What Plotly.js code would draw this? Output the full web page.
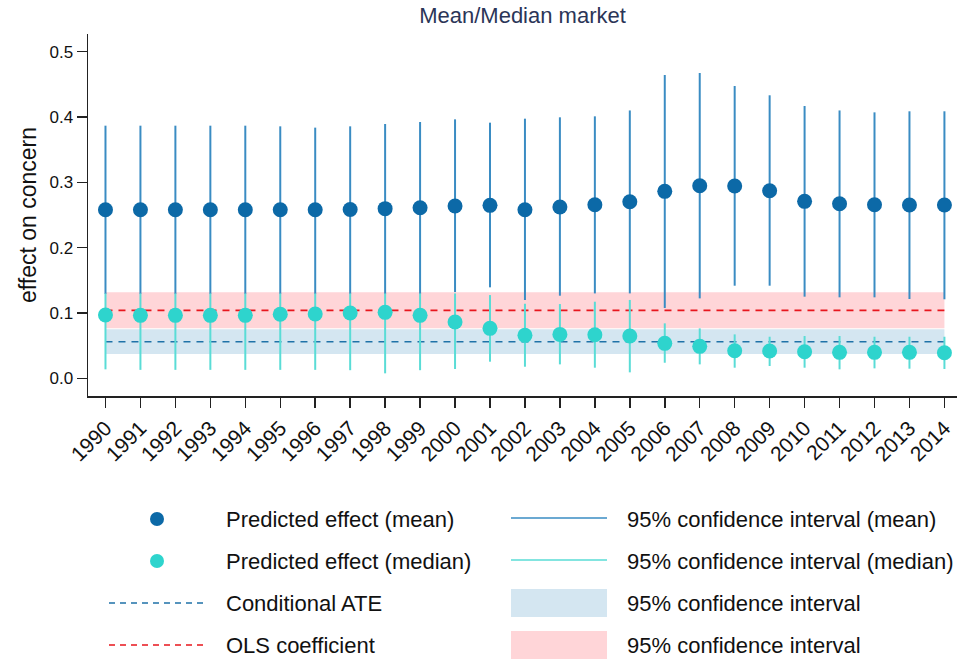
<!DOCTYPE html>
<html>
<head>
<meta charset="utf-8">
<script src="https://cdn.plot.ly/plotly-3.0.1.min.js"></script>
<style>html,body{margin:0;padding:0;background:#fff;}#chart{width:957px;height:662px;}</style>
</head>
<body>
<div id="chart"></div>
<script>
// ---- data ----
var years = [1990,1991,1992,1993,1994,1995,1996,1997,1998,1999,2000,2001,2002,2003,2004,2005,2006,2007,2008,2009,2010,2011,2012,2013,2014];

var meanEffect = [0.258,0.258,0.258,0.258,0.258,0.258,0.258,0.2585,0.2597,0.2612,0.2638,0.2648,0.258,0.2622,0.2657,0.2703,0.2862,0.2948,0.2943,0.2872,0.2709,0.2673,0.2657,0.2653,0.2653];
var meanUpper  = [0.3867,0.3867,0.3867,0.3867,0.3867,0.3857,0.3837,0.3857,0.3893,0.3923,0.3964,0.3913,0.3974,0.3995,0.401,0.410,0.4643,0.4673,0.4474,0.4332,0.4168,0.410,0.4071,0.4087,0.4087];
var meanLower  = [0.129,0.129,0.129,0.129,0.129,0.129,0.129,0.129,0.129,0.129,0.132,0.1393,0.1199,0.1265,0.130,0.130,0.1077,0.1224,0.1418,0.1418,0.125,0.124,0.124,0.1214,0.121];

var medianEffect = [0.0969,0.0964,0.0964,0.0964,0.0964,0.098,0.0985,0.100,0.101,0.0964,0.0862,0.0765,0.0658,0.0673,0.0668,0.0648,0.0536,0.049,0.0423,0.0418,0.0408,0.0398,0.0398,0.0398,0.0393];
var medianUpper  = [0.130,0.130,0.130,0.130,0.130,0.130,0.130,0.130,0.130,0.130,0.130,0.1275,0.1142,0.1137,0.1173,0.120,0.0842,0.0765,0.0673,0.0637,0.0648,0.0648,0.0637,0.0637,0.0637];
var medianLower  = [0.0138,0.013,0.013,0.013,0.013,0.013,0.013,0.0125,0.0077,0.0125,0.0143,0.0255,0.0178,0.0214,0.0163,0.0092,0.0239,0.0214,0.0163,0.0189,0.0163,0.0138,0.0153,0.0148,0.0143];

var ateValue = 0.056, ateLower = 0.0372, ateUpper = 0.075;
var olsValue = 0.104, olsLower = 0.0765, olsUpper = 0.1316;

var yTicks = [0, 0.1, 0.2, 0.3, 0.4, 0.5];
var yTickLabels = ['0.0','0.1','0.2','0.3','0.4','0.5'];
var xTickLabels = years.map(String);

var legendLabels = ['Predicted effect (mean)','Predicted effect (median)','Conditional ATE','OLS coefficient',
  '95% confidence interval (mean)','95% confidence interval (median)','95% confidence interval','95% confidence interval'];

// ---- colours ----
var cMean = '#0c69a7', cMeanCI = '#3a8cc3';
var cMed = '#2ed4cd', cMedCI = '#5adcd6';
var cAte = '#1f72a8', cOls = '#e8161d';
var cAteBand = '#d4e6f1', cOlsBand = '#ffd5d8';

var x0 = years[0], x1 = years[years.length-1];
function diff(a,b){ return a.map(function(v,i){ return v - b[i]; }); }

var traces = [
  {x:[x0,x1,x1,x0], y:[olsLower,olsLower,olsUpper,olsUpper], fill:'toself', fillcolor:cOlsBand, mode:'none', type:'scatter', hoverinfo:'skip'},
  {x:[x0,x1,x1,x0], y:[ateLower,ateLower,ateUpper,ateUpper], fill:'toself', fillcolor:cAteBand, mode:'none', type:'scatter', hoverinfo:'skip'},
  {x:[x0,x1], y:[olsValue,olsValue], mode:'lines', type:'scatter', line:{color:cOls, width:1.6, dash:'7px,6px'}},
  {x:[x0,x1], y:[ateValue,ateValue], mode:'lines', type:'scatter', line:{color:cAte, width:1.6, dash:'7px,6px'}},
  {x:years, y:meanEffect, mode:'markers', type:'scatter', marker:{color:cMean, size:15},
   error_y:{type:'data', symmetric:false, array:diff(meanUpper,meanEffect), arrayminus:diff(meanEffect,meanLower), color:cMeanCI, thickness:2, width:0}},
  {x:years, y:medianEffect, mode:'markers', type:'scatter', marker:{color:cMed, size:15},
   error_y:{type:'data', symmetric:false, array:diff(medianUpper,medianEffect), arrayminus:diff(medianEffect,medianLower), color:cMedCI, thickness:2, width:0}}
];

// ---- legend drawn by hand below the plot (paper coordinates from pixels) ----
var L = 88, R = 957, T = 34, B = 396;
function px(x){ return (x - L) / (R - L); }
function py(y){ return (B - y) / (B - T); }
var rows = [519, 561, 603, 645];
var shapes = [];
var annotations = [];
shapes.push({type:'circle', xref:'paper', yref:'paper', x0:px(150), x1:px(164), y0:py(rows[0]+7), y1:py(rows[0]-7), fillcolor:cMean, line:{width:0}});
shapes.push({type:'circle', xref:'paper', yref:'paper', x0:px(150), x1:px(164), y0:py(rows[1]+7), y1:py(rows[1]-7), fillcolor:cMed, line:{width:0}});
shapes.push({type:'line', xref:'paper', yref:'paper', x0:px(109), x1:px(205), y0:py(rows[2]), y1:py(rows[2]), line:{color:cAte, width:1.6, dash:'6px,5px'}});
shapes.push({type:'line', xref:'paper', yref:'paper', x0:px(109), x1:px(205), y0:py(rows[3]), y1:py(rows[3]), line:{color:cOls, width:1.6, dash:'6px,5px'}});
shapes.push({type:'line', xref:'paper', yref:'paper', x0:px(511), x1:px(607), y0:py(rows[0]-1), y1:py(rows[0]-1), line:{color:cMeanCI, width:1.6}});
shapes.push({type:'line', xref:'paper', yref:'paper', x0:px(511), x1:px(607), y0:py(rows[1]-1), y1:py(rows[1]-1), line:{color:cMedCI, width:1.6}});
shapes.push({type:'rect', xref:'paper', yref:'paper', x0:px(511), x1:px(607), y0:py(rows[2]+14), y1:py(rows[2]-14), fillcolor:cAteBand, line:{width:0}});
shapes.push({type:'rect', xref:'paper', yref:'paper', x0:px(511), x1:px(607), y0:py(rows[3]+14), y1:py(rows[3]-14), fillcolor:cOlsBand, line:{width:0}});
for (var i = 0; i < 4; i++) {
  annotations.push({xref:'paper', yref:'paper', x:px(224), y:py(rows[i]), xanchor:'left', yanchor:'middle', text:legendLabels[i], showarrow:false, font:{size:22, color:'#111'}});
  annotations.push({xref:'paper', yref:'paper', x:px(625), y:py(rows[i]), xanchor:'left', yanchor:'middle', text:legendLabels[i+4], showarrow:false, font:{size:22, color:'#111'}});
}

var layout = {
  width:957, height:662,
  margin:{l:L, r:0, t:T, b:662-B, pad:0},
  paper_bgcolor:'#fff', plot_bgcolor:'#fff',
  font:{family:'"Liberation Sans", Arial, sans-serif', color:'#111'},
  showlegend:false,
  title:{text:'Mean/Median market', x:0.5, xref:'paper', y:1-15/662, yanchor:'middle', font:{size:22, color:'#2b3557'}},
  xaxis:{range:[1989.5, 2014.36], tickmode:'array', tickvals:years, ticktext:xTickLabels, tickangle:-45,
    showline:true, linecolor:'#222', linewidth:1.5, ticks:'outside', ticklen:10, tickwidth:1.5, tickcolor:'#222',
    showgrid:false, zeroline:false, tickfont:{size:21, color:'#111'}, fixedrange:true},
  yaxis:{range:[-0.027, 0.527], tickmode:'array', tickvals:yTicks, ticktext:yTickLabels,
    showline:true, linecolor:'#222', linewidth:1.5, ticks:'outside', ticklen:10, tickwidth:1.5, tickcolor:'#222',
    showgrid:false, zeroline:false, tickfont:{size:17, color:'#111'},
    title:{text:'effect on concern', font:{size:23, color:'#111'}, standoff:6}, fixedrange:true},
  shapes:shapes,
  annotations:annotations
};

Plotly.newPlot('chart', traces, layout, {displayModeBar:false, staticPlot:true});
</script>
</body>
</html>
